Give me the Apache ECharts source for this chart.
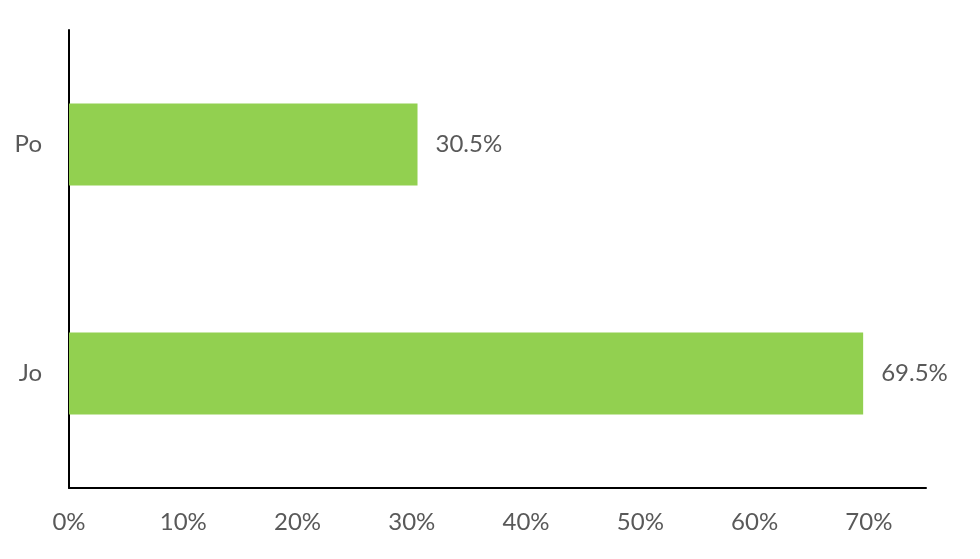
<!DOCTYPE html>
<html><head><meta charset="utf-8">
<script src="https://cdn.jsdelivr.net/npm/echarts@6/dist/echarts.min.js"></script>
<style>html,body{margin:0;padding:0;background:#fff}#c{width:980px;height:559px}</style>
</head><body><div id="c"></div>
<script>
const categories = ['Jo', 'Po'];
const values = [0.695, 0.305];
const xTicks = [0, 0.1, 0.2, 0.3, 0.4, 0.5, 0.6, 0.7];

const chart = echarts.init(document.getElementById('c'));
const font = 'Lato';
chart.setOption({
  animation: false,
  grid: {left: 69, right: 54, top: 30, bottom: 71},
  xAxis: {
    type: 'value', min: 0, max: 0.75, interval: 0.1,
    axisLine: {show: true, lineStyle: {color: '#000', width: 2}},
    axisTick: {show: false},
    splitLine: {show: false},
    axisLabel: {
      margin: 22, color: '#595959', fontFamily: font, fontSize: 24,
      showMaxLabel: false,
      formatter: v => xTicks.some(t => Math.abs(t - v) < 1e-9) ? Math.round(v * 100) + '%' : ''
    }
  },
  yAxis: {
    type: 'category', data: categories,
    axisLine: {show: true, lineStyle: {color: '#000', width: 2}},
    axisTick: {show: false},
    axisLabel: {margin: 27, color: '#595959', fontFamily: font, fontSize: 24}
  },
  series: [{
    type: 'bar', data: values, barWidth: 82,
    itemStyle: {color: '#92D050'},
    label: {
      show: true, position: 'right', distance: 18,
      color: '#595959', fontFamily: font, fontSize: 24,
      formatter: p => (p.value * 100).toFixed(1) + '%'
    }
  }]
});
</script></body></html>
